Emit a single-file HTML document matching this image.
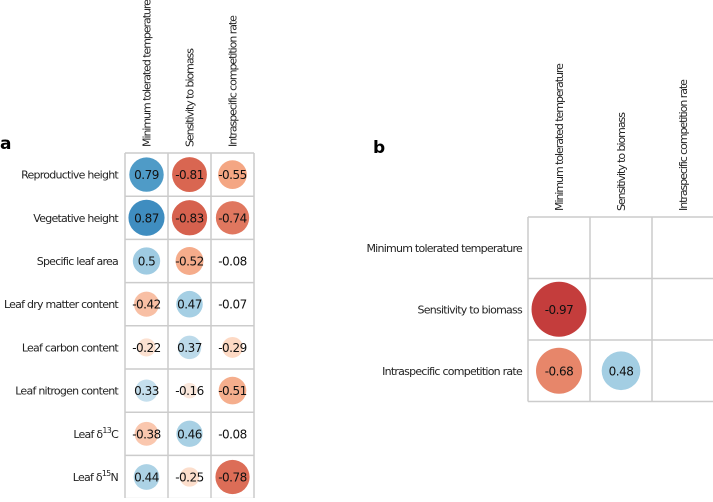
<!DOCTYPE html>
<html><head><meta charset="utf-8"><style>
body{margin:0;background:#fff;width:713px;height:498px;overflow:hidden;font-family:"DejaVu Sans","Liberation Sans",sans-serif}
</style></head><body>
<svg id="c" width="713" height="498" style="font-family:'DejaVu Sans','Liberation Sans',sans-serif"></svg>
<script>
const rowsA=["Reproductive height","Vegetative height","Specific leaf area","Leaf dry matter content","Leaf carbon content","Leaf nitrogen content","Leaf δ13C","Leaf δ15N"];
const colsA=["Minimum tolerated temperature","Sensitivity to biomass","Intraspecific competition rate"];
const valsA=[[0.79,-0.81,-0.55],[0.87,-0.83,-0.74],[0.5,-0.52,-0.08],[-0.42,0.47,-0.07],[-0.22,0.37,-0.29],[0.33,-0.16,-0.51],[-0.38,0.46,-0.08],[0.44,-0.25,-0.78]];
const rowsB=["Minimum tolerated temperature","Sensitivity to biomass","Intraspecific competition rate"];
const colsB=["Minimum tolerated temperature","Sensitivity to biomass","Intraspecific competition rate"];
const valsB=[[null,null,null],[-0.97,null,null],[-0.68,0.48,null]];
const NS="http://www.w3.org/2000/svg",svg=document.getElementById('c');
function mk(t,a,p){const e=document.createElementNS(NS,t);for(const k in a)e.setAttribute(k,a[k]);(p||svg).appendChild(e);return e;}
const stops=[[-1,[103,0,31]],[-0.8,[178,24,43]],[-0.6,[214,96,77]],[-0.4,[244,165,130]],[-0.2,[253,219,199]],[0,[247,247,247]],[0.2,[209,229,240]],[0.4,[146,197,222]],[0.6,[67,147,195]],[0.8,[33,102,172]],[1,[5,48,97]]];
function col(v){v=Math.max(-1,Math.min(1,v*0.72));for(let i=0;i<stops.length-1;i++){const[a,ca]=stops[i],[b,cb]=stops[i+1];if(v<=b){const t=(v-a)/(b-a);return`rgb(${ca.map((c,j)=>Math.round(c+(cb[j]-c)*t)).join(',')})`;}}return'rgb(5,48,97)';}
function panel(name,rows,cols,vals,x0,y0,cw,ch,labelRight,fs){
  const g=mk('g',{});
  rows.forEach((r,i)=>{const cy=y0+ch*(i+0.5);
    const t=mk('text',{x:labelRight,y:cy+4,'text-anchor':'end','font-size':fs,fill:'#222','letter-spacing':'-0.75'},g);
    
    const m=r.match(/^(Leaf δ)(\d+)(\w)$/);
    if(m){t.textContent=m[1];const s=mk('tspan',{dy:-5,'font-size':fs-3},t);s.textContent=m[2];const s2=mk('tspan',{dy:5},t);s2.textContent=m[3];}else t.textContent=r;
  });
  cols.forEach((c,j)=>{const cx=x0+cw*(j+0.5);
    const t=mk('text',{transform:`translate(${cx+4},${y0-6}) rotate(-90)`,'font-size':fs,fill:'#222','letter-spacing':'-1.05'},g);
    t.textContent=c;});
  vals.forEach((row,i)=>row.forEach((v,j)=>{
    const cx=x0+cw*(j+0.5),cy=y0+ch*(i+0.5);
    if(v===null)return;
    if(Math.abs(v)>0.1){const ci=mk('circle',{cx,cy,r:0.45*cw*Math.sqrt(Math.abs(v)),fill:col(v)},g);
      }
    const t=mk('text',{x:cx,y:cy+4.5,'text-anchor':'middle','font-size':fs+1,fill:'#111','letter-spacing':'-0.5'},g);
    t.textContent=v;
  }));
  for(let i=0;i<=rows.length;i++){const l=mk('line',{x1:x0,x2:x0+cw*cols.length,y1:y0+ch*i,y2:y0+ch*i,stroke:'#ccc','stroke-width':1.5},g);}
  for(let j=0;j<=cols.length;j++){const l=mk('line',{x1:x0+cw*j,x2:x0+cw*j,y1:y0,y2:y0+ch*rows.length,stroke:'#ccc','stroke-width':1.5},g);}
}
panel('panel-a',rowsA,colsA,valsA,125,153,43,43.2,118,11);
panel('panel-b',rowsB,colsB,valsB,528,217,62,61.5,522,11);
const la=mk('text',{x:0,y:149,'font-size':17,'font-weight':'bold'});la.textContent='a';
const lb=mk('text',{x:373,y:153,'font-size':17,'font-weight':'bold'});lb.textContent='b';
</script>
</body></html>
